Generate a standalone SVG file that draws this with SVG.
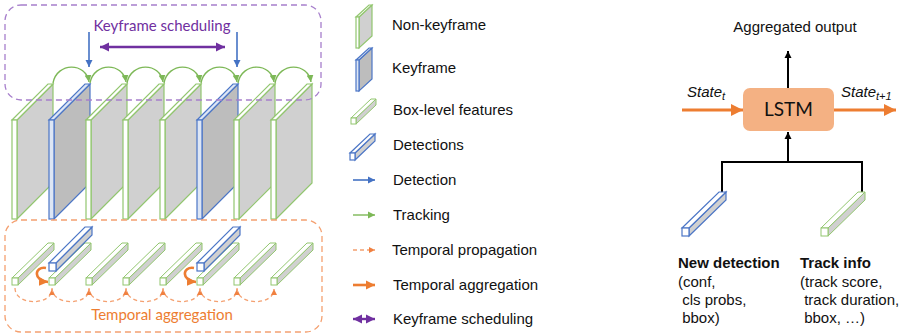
<svg xmlns="http://www.w3.org/2000/svg" xmlns:xlink="http://www.w3.org/1999/xlink" width="904" height="334" viewBox="0 0 904 334">
<style>
.fside{fill:#D0D0D0;stroke:#92C66F;stroke-width:1.2}
.ftop{fill:#FFFFFF;stroke:#92C66F;stroke-width:1.2}
.ffront{fill:#FFFFFF;stroke:#92C66F;stroke-width:1.2}
.kside{fill:#BDBDBD;stroke:#4C76C6;stroke-width:1.2}
.ktop{fill:#DDE6F5;stroke:#4C76C6;stroke-width:1.2}
.kfront{fill:#DDE6F5;stroke:#4C76C6;stroke-width:1.2}
.bside{fill:#D0D0D0;stroke:#92C66F;stroke-width:1}
.btop{fill:#FFFFFF;stroke:#92C66F;stroke-width:1}
.dside{fill:#D0D0D0;stroke:#4C76C6;stroke-width:1.2}
.dtop{fill:#FFFFFF;stroke:#4C76C6;stroke-width:1.2}
.leg{font-family:"Liberation Sans",Arial,sans-serif;font-size:15px;fill:#111}
.cal{font-family:Lato,"Liberation Sans",sans-serif}
.track{fill:none;stroke:#7DB857;stroke-width:1.4}
.det{fill:none;stroke:#4472C4;stroke-width:1.6}
.prop{fill:none;stroke:#F4A070;stroke-width:1.3;stroke-dasharray:4 3}
.agg{fill:none;stroke:#ED7D31;stroke-width:2.6}
.sched{fill:none;stroke:#7030A0;stroke-width:2.4}
.blk{fill:none;stroke:#000;stroke-width:2}
.state{fill:none;stroke:#ED7D31;stroke-width:3}
</style>
<defs>
<marker id="aG" markerUnits="userSpaceOnUse" markerWidth="8" markerHeight="8" refX="7" refY="4" orient="auto"><path d="M0,0.5 L7,4 L0,7.5 z" fill="#7DB857"/></marker>
<marker id="aB" markerUnits="userSpaceOnUse" markerWidth="8" markerHeight="8" refX="7" refY="4" orient="auto"><path d="M0,0.5 L7,4 L0,7.5 z" fill="#4472C4"/></marker>
<marker id="aOs" markerUnits="userSpaceOnUse" markerWidth="7" markerHeight="7" refX="6" refY="3.5" orient="auto"><path d="M0,0.5 L6,3.5 L0,6.5 z" fill="#F08040"/></marker>
<marker id="aO" markerUnits="userSpaceOnUse" markerWidth="10" markerHeight="10" refX="9" refY="5" orient="auto"><path d="M0,0.5 L9,5 L0,9.5 z" fill="#ED7D31"/></marker>
<marker id="aOL" markerUnits="userSpaceOnUse" markerWidth="13" markerHeight="12" refX="12" refY="6" orient="auto"><path d="M0,0 L12,6 L0,12 z" fill="#ED7D31"/></marker>
<marker id="aP" markerUnits="userSpaceOnUse" markerWidth="10" markerHeight="10" refX="9" refY="5" orient="auto-start-reverse"><path d="M0,0.5 L9,5 L0,9.5 z" fill="#7030A0"/></marker>
<marker id="aK" markerUnits="userSpaceOnUse" markerWidth="8" markerHeight="10" refX="7" refY="4" orient="auto"><path d="M0,0.5 L7,4 L0,7.5 z" fill="#000"/></marker>
<g id="nkf">
<polygon class="fside" points="5,120 41,84 41,183 5,219"/>
<polygon class="ftop" points="0,120 5,120 41,84 36,84"/>
<rect class="ffront" x="0" y="120" width="5" height="99"/>
</g>
<g id="kf">
<polygon class="kside" points="5,120 41,84 41,183 5,219"/>
<polygon class="ktop" points="0,120 5,120 41,84 36,84"/>
<rect class="kfront" x="0" y="120" width="5" height="99"/>
</g>
<g id="bar">
<polygon class="bside" points="6,278 42,243 42,250 6,285"/>
<polygon class="btop" points="0,278 6,278 42,243 36,243"/>
<rect class="btop" x="0" y="278" width="6" height="7"/>
</g>
<g id="dbar">
<polygon class="dside" points="7,263 43,227 43,235 7,271"/>
<polygon class="dtop" points="0,263 7,263 43,227 36,227"/>
<rect class="dtop" x="0" y="263" width="7" height="8"/>
</g>
</defs>

<!-- frames -->
<g id="frame1"><use href="#nkf" x="12"/></g>
<g id="frame2"><use href="#kf" x="49"/></g>
<g id="frame3"><use href="#nkf" x="86"/></g>
<g id="frame4"><use href="#nkf" x="123"/></g>
<g id="frame5"><use href="#nkf" x="160"/></g>
<g id="frame6"><use href="#kf" x="197"/></g>
<g id="frame7"><use href="#nkf" x="234"/></g>
<g id="frame8"><use href="#nkf" x="271"/></g>

<!-- keyframe scheduling box -->
<g id="keyframe-scheduling">
<rect x="5" y="5" width="316" height="95" rx="16" fill="none" stroke="#A77FCC" stroke-width="1.3" stroke-dasharray="6 4"/>
<text class="cal" x="162" y="31" text-anchor="middle" font-size="15" fill="#7030A0">Keyframe scheduling</text>
</g>

<!-- bars -->
<g id="bar1"><use href="#bar" x="12"/></g>
<g id="bar2"><use href="#bar" x="49"/></g>
<g id="bar3"><use href="#bar" x="86"/></g>
<g id="bar4"><use href="#bar" x="123"/></g>
<g id="bar5"><use href="#bar" x="160"/></g>
<g id="bar6"><use href="#bar" x="197"/></g>
<g id="bar7"><use href="#bar" x="234"/></g>
<g id="bar8"><use href="#bar" x="271"/></g>
<g id="det1"><use href="#dbar" x="49"/></g>
<g id="det2"><use href="#dbar" x="197"/></g>

<!-- temporal aggregation box -->
<g id="temporal-aggregation">
<rect x="5" y="220" width="317" height="112" rx="16" fill="none" stroke="#F4A070" stroke-width="1.3" stroke-dasharray="6 4"/>
<text class="cal" x="162" y="320" text-anchor="middle" font-size="15" fill="#ED7D31">Temporal aggregation</text>
</g>

<g id="connectors">
<!-- tracking arcs -->
<path class="track" marker-end="url(#aG)" d="M53,83 C57,62 86,62 89,82"/>
<path class="track" marker-end="url(#aG)" d="M90,83 C94,62 123,62 126,82"/>
<path class="track" marker-end="url(#aG)" d="M127,83 C131,62 160,62 163,82"/>
<path class="track" marker-end="url(#aG)" d="M164,83 C168,62 197,62 200,82"/>
<path class="track" marker-end="url(#aG)" d="M201,83 C205,62 234,62 237,82"/>
<path class="track" marker-end="url(#aG)" d="M238,83 C242,62 271,62 274,82"/>
<path class="track" marker-end="url(#aG)" d="M275,83 C279,62 308,62 311,82"/>
<!-- detection arrows -->
<line class="det" marker-end="url(#aB)" x1="89" y1="32" x2="89" y2="67"/>
<line class="det" marker-end="url(#aB)" x1="237" y1="32" x2="237" y2="67"/>
<!-- keyframe scheduling -->
<line class="sched" marker-start="url(#aP)" marker-end="url(#aP)" x1="100" y1="47" x2="225" y2="47"/>
<!-- temporal propagation -->
<path class="prop" marker-end="url(#aOs)" d="M15,288 C15,306 52,306 52,289"/>
<path class="prop" marker-end="url(#aOs)" d="M52,288 C52,306 89,306 89,289"/>
<path class="prop" marker-end="url(#aOs)" d="M89,288 C89,306 126,306 126,289"/>
<path class="prop" marker-end="url(#aOs)" d="M126,288 C126,306 163,306 163,289"/>
<path class="prop" marker-end="url(#aOs)" d="M163,288 C163,306 200,306 200,289"/>
<path class="prop" marker-end="url(#aOs)" d="M200,288 C200,306 237,306 237,289"/>
<path class="prop" marker-end="url(#aOs)" d="M237,288 C237,306 274,306 274,289"/>
<!-- temporal aggregation -->
<path class="agg" marker-end="url(#aO)" d="M46,268 C34,266 33,281 48,282"/>
<path class="agg" marker-end="url(#aO)" d="M194,268 C182,266 181,281 196,282"/>

<!-- legend arrows -->
<line class="det" marker-end="url(#aB)" x1="353" y1="180" x2="375" y2="180"/>
<line class="track" marker-end="url(#aG)" x1="353" y1="215" x2="375" y2="215"/>
<line class="prop" marker-end="url(#aOs)" x1="353" y1="250" x2="375" y2="250"/>
<line class="agg" marker-end="url(#aO)" x1="353" y1="285" x2="375" y2="285"/>
<line class="sched" marker-start="url(#aP)" marker-end="url(#aP)" x1="353" y1="319" x2="375" y2="319"/>

<!-- LSTM connectors -->
<line class="blk" marker-end="url(#aK)" x1="788" y1="88" x2="788" y2="51"/>
<line class="state" marker-end="url(#aOL)" x1="682" y1="110" x2="743" y2="110"/>
<line class="state" marker-end="url(#aOL)" x1="834" y1="110" x2="896" y2="110"/>
<polyline class="blk" points="722,193 722,162 862,162 862,193"/>
<line class="blk" marker-end="url(#aK)" x1="788" y1="162" x2="788" y2="132"/>
</g>

<!-- legend -->
<g id="legend-nonkeyframe">
<polygon class="fside" points="359,17 372,5 372,36 359,48"/>
<polygon class="ftop" points="356,17 359,17 372,5 369,5"/>
<rect class="ffront" x="356" y="17" width="3" height="31"/>
<text class="leg" x="392" y="30">Non-keyframe</text>
</g>
<g id="legend-keyframe">
<polygon class="kside" points="359,60 372,48 372,79 359,91"/>
<polygon class="ktop" points="356,60 359,60 372,48 369,48"/>
<rect class="kfront" x="356" y="60" width="3" height="31"/>
<text class="leg" x="392" y="73">Keyframe</text>
</g>
<g id="legend-box">
<polygon class="bside" points="356,118 376,99 376,105 356,124"/>
<polygon class="btop" points="351,118 356,118 376,99 371,99"/>
<rect class="btop" x="351" y="118" width="5" height="6"/>
<text class="leg" x="393" y="115">Box-level features</text>
</g>
<g id="legend-detections">
<polygon class="dside" points="355,153 375,134 375,141 355,160"/>
<polygon class="dtop" points="350,153 355,153 375,134 370,134"/>
<rect class="dtop" x="350" y="153" width="5" height="7"/>
<text class="leg" x="393" y="150">Detections</text>
</g>
<g id="legend-texts">
<text class="leg" x="393" y="185">Detection</text>
<text class="leg" x="393" y="220">Tracking</text>
<text class="leg" x="392" y="255">Temporal propagation</text>
<text class="leg" x="393" y="290">Temporal aggregation</text>
<text class="leg" x="393" y="324">Keyframe scheduling</text>
</g>

<!-- LSTM side -->
<g id="aggregated-output"><text class="leg" x="795" y="32" text-anchor="middle" font-size="15.5">Aggregated output</text></g>
<g id="lstm">
<rect x="743" y="88" width="91" height="43" rx="7" fill="#F4B183"/>
<text class="cal" x="788.5" y="116" text-anchor="middle" font-size="19" fill="#111">LSTM</text>
</g>
<g id="state-t"><text class="leg" x="687" y="97" font-style="italic" font-size="16">State<tspan font-size="11" dy="3">t</tspan></text></g>
<g id="state-t1"><text class="leg" x="841" y="97" font-style="italic" font-size="16">State<tspan font-size="11" dy="3">t+1</tspan></text></g>
<g id="new-detection">
<polygon class="dside" points="689,228 726,192 726,200 689,236"/>
<polygon class="dtop" points="682,228 689,228 726,192 719,192"/>
<rect class="dtop" x="682" y="228" width="7" height="8"/>
<text class="leg" x="678" y="268" font-weight="bold">New detection</text>
<text class="leg" x="678" y="287">(conf,</text>
<text class="leg" x="678" y="305" xml:space="preserve"> cls probs,</text>
<text class="leg" x="678" y="323" xml:space="preserve"> bbox)</text>
</g>
<g id="track-info">
<polygon class="bside" points="828,228 865,192 865,200 828,236"/>
<polygon class="btop" points="821,228 828,228 865,192 858,192"/>
<rect class="btop" x="821" y="228" width="7" height="8"/>
<text class="leg" x="800" y="268" font-weight="bold">Track info</text>
<text class="leg" x="800" y="287">(track score,</text>
<text class="leg" x="800" y="305" xml:space="preserve"> track duration,</text>
<text class="leg" x="800" y="323" xml:space="preserve"> bbox, …)</text>
</g>
</svg>
